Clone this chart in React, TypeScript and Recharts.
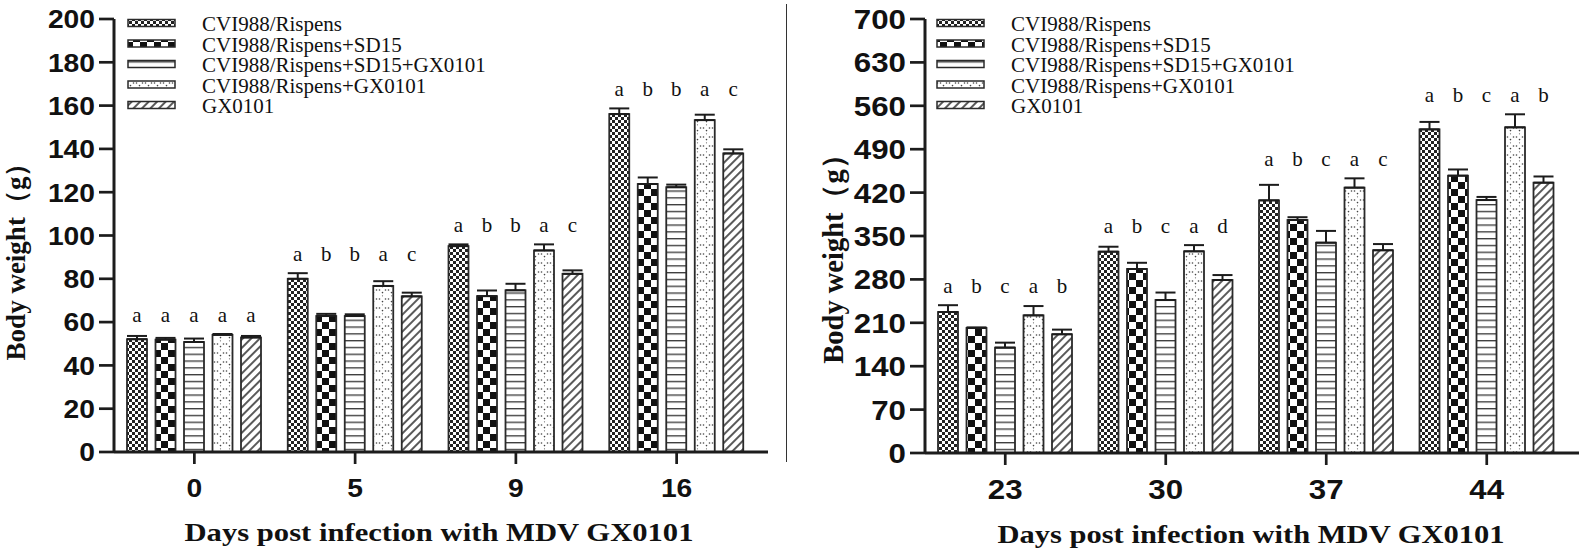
import React from 'react';
import { BarChart, Bar, XAxis, YAxis, ErrorBar, Legend, Label } from 'recharts';

// ---------- data ----------
const seriesNames = [
  'CVI988/Rispens',
  'CVI988/Rispens+SD15',
  'CVI988/Rispens+SD15+GX0101',
  'CVI988/Rispens+GX0101',
  'GX0101',
];

const leftDays = ['0', '5', '9', '16'];
const leftRispens = [52.1, 80.0, 95.1, 156.1];
const leftRispensSD15 = [51.9, 62.8, 72.0, 123.8];
const leftRispensSD15GX = [50.8, 62.8, 74.7, 122.3];
const leftRispensGX = [54.1, 76.7, 93.1, 153.3];
const leftGX = [52.9, 71.9, 82.3, 137.9];
const leftRispensErr = [1.5, 2.6, 0.8, 2.6];
const leftRispensSD15Err = [0.8, 1.0, 2.6, 3.0];
const leftRispensSD15GXErr = [1.6, 0.8, 3.0, 1.2];
const leftRispensGXErr = [0.4, 2.2, 2.8, 2.5];
const leftGXErr = [0.7, 1.7, 1.6, 1.9];
const leftLetters = [
  ['a', 'a', 'a', 'a', 'a'],
  ['a', 'b', 'b', 'a', 'c'],
  ['a', 'b', 'b', 'a', 'c'],
  ['a', 'b', 'b', 'a', 'c'],
];
const leftTicks = [0, 20, 40, 60, 80, 100, 120, 140, 160, 180, 200];

const rightDays = ['23', '30', '37', '44'];
const rightRispens = [227.4, 324.7, 407.5, 522.0];
const rightRispensSD15 = [201.6, 296.8, 375.8, 447.3];
const rightRispensSD15GX = [170.0, 246.8, 339.2, 408.0];
const rightRispensGX = [222.0, 325.3, 428.0, 525.3];
const rightGX = [191.5, 279.0, 327.0, 436.0];
const rightRispensErr = [11, 8, 25, 12];
const rightRispensSD15Err = [1, 10, 4.5, 10];
const rightRispensSD15GXErr = [8, 12, 19, 5];
const rightRispensGXErr = [15, 10, 15, 21];
const rightGXErr = [7.5, 8, 10, 10];
const rightLetters = [
  ['a', 'b', 'c', 'a', 'b'],
  ['a', 'b', 'c', 'a', 'd'],
  ['a', 'b', 'c', 'a', 'c'],
  ['a', 'b', 'c', 'a', 'b'],
];
const rightTicks = [0, 70, 140, 210, 280, 350, 420, 490, 560, 630, 700];

const xTitle = 'Days post infection with MDV GX0101';
const yTitle = 'Body weight（g）';

// ---------- helpers ----------
function buildRows(days: string[], values: number[][], errs: number[][], letters: string[][]) {
  return days.map((d, i) => {
    const row: any = { day: d };
    values.forEach((s, k) => {
      row[`v${k}`] = s[i];
      row[`e${k}`] = [0, errs[k][i]];
      row[`L${k}`] = letters[i][k];
    });
    return row;
  });
}

const leftRows = buildRows(
  leftDays,
  [leftRispens, leftRispensSD15, leftRispensSD15GX, leftRispensGX, leftGX],
  [leftRispensErr, leftRispensSD15Err, leftRispensSD15GXErr, leftRispensGXErr, leftGXErr],
  leftLetters
);
const rightRows = buildRows(
  rightDays,
  [rightRispens, rightRispensSD15, rightRispensSD15GX, rightRispensGX, rightGX],
  [rightRispensErr, rightRispensSD15Err, rightRispensSD15GXErr, rightRispensGXErr, rightGXErr],
  rightLetters
);

const INK = '#1c1c1c';
const SERIF = '"Liberation Serif", "Times New Roman", serif';
const SANS = '"Liberation Sans", Arial, sans-serif';

function Patterns({ p }: { p: string }) {
  return (
    <defs>
      <pattern id={`${p}-0`} width={6} height={6} patternUnits="userSpaceOnUse">
        <rect width={6} height={6} fill="#fff" />
        <rect x={0} y={0} width={3} height={3} fill="#222" />
        <rect x={3} y={3} width={3} height={3} fill="#222" />
      </pattern>
      <pattern id={`${p}-1`} width={14} height={14} patternUnits="userSpaceOnUse">
        <rect width={14} height={14} fill="#fff" />
        <rect x={0} y={0} width={7} height={7} fill="#111" />
        <rect x={7} y={7} width={7} height={7} fill="#111" />
      </pattern>
      <pattern id={`${p}-2`} width={8} height={6.8} patternUnits="userSpaceOnUse">
        <rect width={8} height={6.8} fill="#fff" />
        <line x1={0} y1={0.7} x2={8} y2={0.7} stroke="#333" strokeWidth={1.3} />
      </pattern>
      <pattern id={`${p}-3`} width={9} height={9} patternUnits="userSpaceOnUse">
        <rect width={9} height={9} fill="#fff" />
        <circle cx={1.5} cy={2} r={0.8} fill="#444" />
        <circle cx={4.5} cy={4.6} r={0.8} fill="#444" />
        <circle cx={7.5} cy={2} r={0.8} fill="#444" />
        <circle cx={4.5} cy={7.8} r={0.6} fill="#666" />
      </pattern>
      <pattern id={`${p}-4`} width={6} height={6} patternUnits="userSpaceOnUse" patternTransform="rotate(45)">
        <rect width={6} height={6} fill="#fff" />
        <line x1={3} y1={0} x2={3} y2={6} stroke="#222" strokeWidth={1.5} />
      </pattern>
    </defs>
  );
}

const makeShape = (idx: number, prefix: string) => (props: any) => {
  const { x, y, width, height, payload } = props;
  const v = payload[`v${idx}`];
  let maxCap = 0;
  for (let k = 0; k < 5; k++) maxCap = Math.max(maxCap, payload[`v${k}`] + payload[`e${k}`][1]);
  const ppu = height / v;
  const yCap = y + height - maxCap * ppu;
  return (
    <g>
      <rect x={x} y={y} width={width} height={height} fill={`url(#${prefix}-${idx})`} stroke="#2a2a2a" strokeWidth={1.8} />
      <text x={x + width / 2} y={yCap - 12.5} textAnchor="middle" fontFamily={SERIF} fontSize={21} fill="#111">
        {payload[`L${idx}`]}
      </text>
    </g>
  );
};

const makeXTick = (digitW: number, fs: number) => (props: any) => {
  const { x, y, payload } = props;
  const s = String(payload.value);
  return (
    <text x={x} y={y + fs * 0.72} textAnchor="middle" fontFamily={SANS} fontWeight="bold" fontSize={fs} fill="#111"
      textLength={s.length * digitW} lengthAdjust="spacingAndGlyphs">
      {s}
    </text>
  );
};

const makeYTick = (digitW: number, fs: number) => (props: any) => {
  const { x, y, payload } = props;
  const s = String(payload.value);
  return (
    <text x={x} y={y + fs * 0.36} textAnchor="end" fontFamily={SANS} fontWeight="bold" fontSize={fs} fill="#111"
      textLength={s.length * digitW} lengthAdjust="spacingAndGlyphs">
      {s}
    </text>
  );
};

const LEGEND_W = 640;

const makeLegend = (prefix: string, swX: number, txX: number) => () => (
  <svg width={LEGEND_W} height={125} style={{ display: 'block', overflow: 'visible' }}>
    <Patterns p={prefix} />
    {seriesNames.map((n, i) => {
      const c = 23 + i * 20.5;
      return (
        <g key={n}>
          <rect x={swX} y={c - 3.5} width={47} height={7} fill={`url(#${prefix}-${i})`} stroke="#2a2a2a" strokeWidth={1.5} />
          <text x={txX} y={c + 8} fontFamily={SERIF} fontSize={21} fill="#111">{n}</text>
        </g>
      );
    })}
  </svg>
);

interface PanelProps {
  prefix: string;
  rows: any[];
  ticks: number[];
  max: number;
  width: number;
  margin: { top: number; right: number; bottom: number; left: number };
  pad: number;
  yTitleX: number;
  yTitleY: number;
  yTitleSize: number;
  xTitleX: number;
  xTitleY: number;
  xTitleLen: number;
  tickDigitW: number;
  tickFs: number;
  legendSwX: number;
  legendTxX: number;
}

function Panel(p: PanelProps) {
  return (
    <BarChart width={p.width} height={556} data={p.rows} margin={p.margin} barSize={20} barGap={8.5}>
      <Patterns p={p.prefix} />
      <XAxis
        dataKey="day"
        height={60}
        tickSize={12}
        tickMargin={14}
        interval={0}
        padding={{ left: 0, right: p.pad }}
        axisLine={{ stroke: INK, strokeWidth: 3 }}
        tickLine={{ stroke: INK, strokeWidth: 2.7 }}
        tick={makeXTick(p.tickDigitW, p.tickFs)}
      >
        <Label
          content={() => (
            <text x={p.xTitleX} y={p.xTitleY} textAnchor="middle" fontFamily={SERIF} fontWeight="bold" fontSize={25}
              fill="#111" textLength={p.xTitleLen} lengthAdjust="spacingAndGlyphs">
              {xTitle}
            </text>
          )}
        />
      </XAxis>
      <YAxis
        width={100}
        domain={[0, p.max]}
        ticks={p.ticks}
        interval={0}
        tickSize={15}
        tickMargin={4}
        axisLine={{ stroke: INK, strokeWidth: 3 }}
        tickLine={{ stroke: INK, strokeWidth: 2.7 }}
        tick={makeYTick(p.tickDigitW, p.tickFs)}
        allowDataOverflow
      >
        <Label
          content={() => (
            <text transform={`translate(${p.yTitleX},${p.yTitleY}) rotate(-90)`} textAnchor="middle" fontFamily={SERIF}
              fontWeight="bold" fontSize={p.yTitleSize} fill="#111">
              {yTitle}
            </text>
          )}
        />
      </YAxis>
      <Legend
        layout="vertical"
        align="center"
        verticalAlign="middle"
        wrapperStyle={{ left: 0, top: 0, width: LEGEND_W, height: 125 }}
        content={makeLegend(p.prefix + 'lg', p.legendSwX, p.legendTxX)}
      />
      {[0, 1, 2, 3, 4].map((k) => (
        <Bar key={k} dataKey={`v${k}`} name={seriesNames[k]} fill={`url(#${p.prefix}-${k})`} isAnimationActive={false}
          shape={makeShape(k, p.prefix)}>
          <ErrorBar dataKey={`e${k}`} width={10} strokeWidth={2} stroke={INK} direction="y" />
        </Bar>
      ))}
    </BarChart>
  );
}

export default function App() {
  return (
    <div style={{ position: 'absolute', left: 0, top: 0, width: 1585, height: 556, background: '#fff', overflow: 'hidden' }}>
      <div style={{ position: 'absolute', left: 0, top: 0 }}>
        <Panel
          prefix="L"
          rows={leftRows}
          ticks={leftTicks}
          max={200}
          width={786}
          margin={{ top: 19, right: 18, bottom: 44, left: 14 }}
          pad={11}
          yTitleX={25}
          yTitleY={255}
          yTitleSize={27}
          xTitleX={439}
          xTitleY={541}
          xTitleLen={509}
          tickDigitW={15.7}
          tickFs={26}
          legendSwX={128}
          legendTxX={202}
        />
      </div>
      <div style={{ position: 'absolute', left: 786, top: 4, width: 1.4, height: 458, background: '#333' }} />
      <div style={{ position: 'absolute', left: 786, top: 0 }}>
        <Panel
          prefix="R"
          rows={rightRows}
          ticks={rightTicks}
          max={700}
          width={799}
          margin={{ top: 19, right: 6, bottom: 43, left: 39 }}
          pad={12}
          yTitleX={57}
          yTitleY={252}
          yTitleSize={28.5}
          xTitleX={465}
          xTitleY={543}
          xTitleLen={507}
          tickDigitW={17.4}
          tickFs={28}
          legendSwX={151}
          legendTxX={225}
        />
      </div>
    </div>
  );
}
